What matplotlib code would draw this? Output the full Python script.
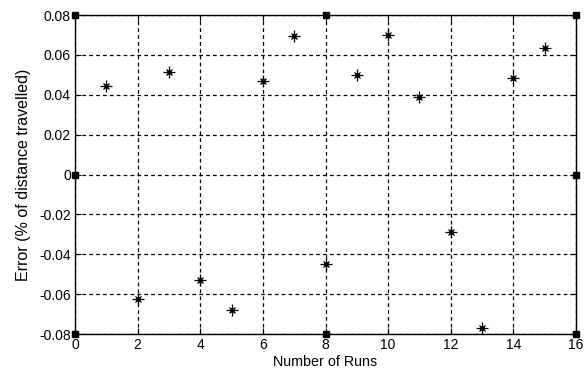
import matplotlib
matplotlib.use("Agg")
import matplotlib.pyplot as plt

runs = list(range(1, 16))
errors = [0.0444, -0.0622, 0.0512, -0.0530, -0.0680, 0.0468, 0.0695, -0.0450,
          0.0497, 0.0700, 0.0390, -0.0290, -0.0770, 0.0485, 0.0636]
handle_x = [0, 8, 16, 0, 16, 0, 8, 16]
handle_y = [0.08, 0.08, 0.08, 0, 0, -0.08, -0.08, -0.08]
xticks = [0, 2, 4, 6, 8, 10, 12, 14, 16]
yticks = [-0.08, -0.06, -0.04, -0.02, 0, 0.02, 0.04, 0.06, 0.08]
ytick_labels = ["-0.08", "-0.06", "-0.04", "-0.02", "0", "0.02", "0.04", "0.06", "0.08"]

plt.rcParams['font.family'] = ['Liberation Sans', 'DejaVu Sans']
fig = plt.figure(figsize=(5.87, 3.76), dpi=100)
ax = fig.add_axes([0.1278, 0.1117, 0.8535, 0.8483])

ax.grid(True, color='black', linestyle=(0, (3, 2.5)), linewidth=0.9)
ax.set_axisbelow(True)
ax.plot(runs, errors, linestyle='none', marker='+', markersize=8, color='black', mew=0.9)
ax.plot(runs, errors, linestyle='none', marker='x', markersize=5, color='black', mew=0.9)
ax.plot(runs, errors, linestyle='none', marker='o', markersize=2.5, color='black')
ax.plot(handle_x, handle_y, linestyle='none', marker='s', markersize=5, color='black', clip_on=False, zorder=5)

ax.set_xlim(0, 16)
ax.set_ylim(-0.08, 0.08)
ax.set_xticks(xticks)
ax.set_yticks(yticks)
ax.set_yticklabels(ytick_labels)
ax.tick_params(direction='in', top=True, right=True, length=4, labelsize=10, pad=3)
for s in ax.spines.values():
    s.set_linewidth(1.0)
ax.set_xlabel("Number of Runs", fontsize=10.3, labelpad=2)
ax.set_ylabel("Error (% of distance travelled)", fontsize=11.5, labelpad=6)

fig.savefig("out.png", dpi=100)
